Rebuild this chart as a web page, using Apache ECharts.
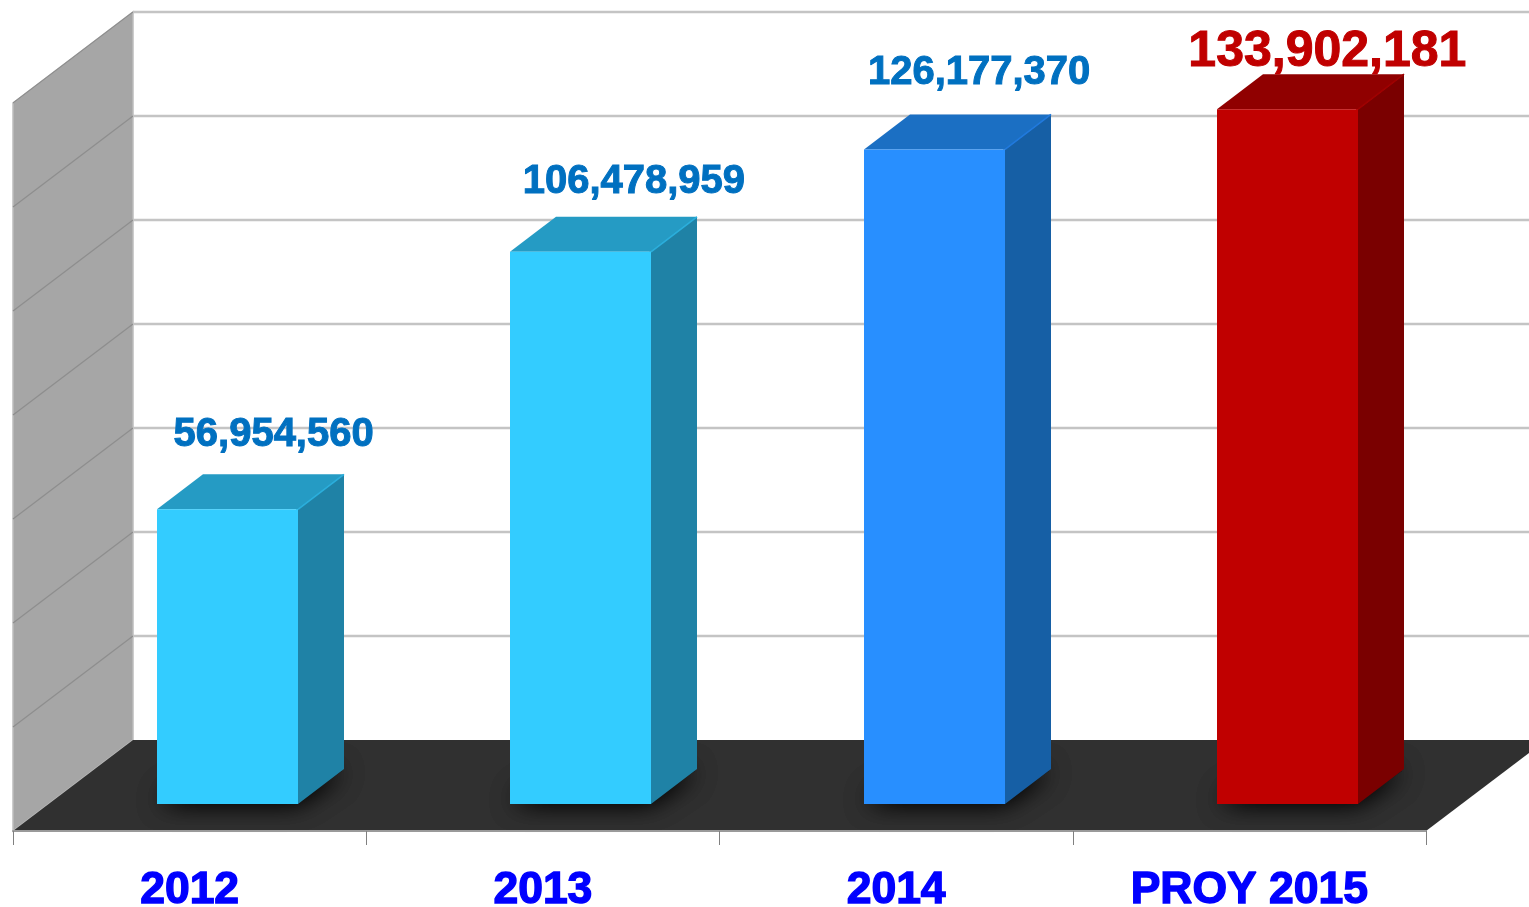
<!DOCTYPE html>
<html>
<head>
<meta charset="utf-8">
<style>html,body{margin:0;padding:0;background:#fff}#c{width:1529px;height:907px}</style>
<script src="https://cdn.jsdelivr.net/npm/echarts@6/dist/echarts.min.js"></script>
</head>
<body>
<div id="c"></div>
<script>
var categories = ['2012', '2013', '2014', 'PROY 2015'];
var values = [56954560, 106478959, 126177370, 133902181];
var valueTexts = ['56,954,560', '106,478,959', '126,177,370', '133,902,181'];
var yTicks = [0, 20000000, 40000000, 60000000, 80000000, 100000000, 120000000, 140000000];
var yMax = 140000000;

// Styling
var frontColors = ['#33CCFF', '#33CCFF', '#288FFF', '#C00000'];
var sideColors = ['#1F82A6', '#1F82A6', '#165FA5', '#7A0000'];
var topColors = ['#259BC4', '#259BC4', '#1B6FC3', '#900000'];
var edgeColors = ['#2AAEDC', '#2AAEDC', '#2079DD', '#A00000'];
var labelColors = ['#0070C0', '#0070C0', '#0070C0', '#C00000'];
var labelSizes = [40, 40, 40, 50];
var labelNudge = [[46, -73], [53, -68], [45, -75], [40, -55]];
var wallDX = 120, wallDY = -91;      // depth of the whole chart box
var planeDX = 38, planeDY = -27;     // where the bars stand inside that depth
var barW = 141, barDX = 46, barDY = -35;
var barTopInset = 1.5;

function pts(list) { return { points: list }; }

var chart = echarts.init(document.getElementById('c'), null, { renderer: 'canvas' });

chart.setOption({
  animation: false,
  backgroundColor: '#ffffff',
  grid: { left: 13, right: 103, top: 103, bottom: 76, containLabel: false, outerBoundsMode: 'none' },
  xAxis: {
    type: 'category',
    data: categories,
    boundaryGap: true,
    z: 10,
    axisLine: { show: true, lineStyle: { color: '#9a9a9a', width: 2 } },
    axisTick: { show: true, length: 14, alignWithLabel: false, lineStyle: { color: '#808080', width: 1 } },
    axisLabel: {
      interval: 0, margin: 37, color: '#0000FF', fontFamily: 'Liberation Sans',
      fontWeight: 'bold', fontSize: 44.5, textBorderColor: '#0000FF', textBorderWidth: 1.4
    },
    splitLine: { show: false }
  },
  yAxis: {
    type: 'value', min: 0, max: yMax, interval: 20000000, show: false, splitLine: { show: false }
  },
  series: [
    // left wall and floor
    {
      type: 'custom', coordinateSystem: 'cartesian2d', z: 1, silent: true,
      data: [[0, yMax]],
      renderItem: function (p, api) {
        var w = api.size([1, 0])[0];
        var top = api.coord([0, yMax]), base = api.coord([0, 0]);
        var last = api.coord([categories.length - 1, 0]);
        var xl = top[0] - w / 2, xr = last[0] + w / 2;
        return {
          type: 'group',
          children: [
            { type: 'polygon', shape: pts([[xl, top[1]], [xl + wallDX, top[1] + wallDY], [xl + wallDX, base[1] + wallDY], [xl, base[1]]]),
              style: { fill: '#A6A6A6', stroke: '#BDBDBD', lineWidth: 1.5 } },
            { type: 'polygon', shape: pts([[xl, base[1]], [xr, base[1]], [xr + wallDX, base[1] + wallDY], [xl + wallDX, base[1] + wallDY]]),
              style: { fill: '#303030' } }
          ]
        };
      }
    },
    // grid lines on both walls
    {
      type: 'custom', coordinateSystem: 'cartesian2d', z: 2, silent: true,
      data: yTicks.map(function (v) { return [0, v]; }),
      renderItem: function (p, api) {
        var w = api.size([1, 0])[0];
        var c = api.coord([0, api.value(1)]);
        var last = api.coord([categories.length - 1, 0]);
        var xl = c[0] - w / 2, xr = last[0] + w / 2;
        var kids = [];
        if (api.value(1) > 0) {
          kids.push({ type: 'line', shape: { x1: xl, y1: c[1], x2: xl + wallDX, y2: c[1] + wallDY },
            style: { stroke: '#8E8E8E', lineWidth: 1.3 } });
          kids.push({ type: 'line', shape: { x1: xl + wallDX, y1: c[1] + wallDY, x2: xr + wallDX, y2: c[1] + wallDY },
            style: { stroke: '#C4C4C4', lineWidth: 2.6 } });
        }
        return { type: 'group', children: kids };
      }
    },
    // bars
    {
      type: 'custom', coordinateSystem: 'cartesian2d', z: 3, silent: true,
      data: values.map(function (v, i) { return [i, v]; }),
      renderItem: function (p, api) {
        var i = api.value(0);
        var t = api.coord([i, api.value(1)]);
        var b = api.coord([i, 0]);
        var cx = t[0] + planeDX;
        var l = Math.round(cx - barW / 2), r = l + barW;
        var yT = t[1] + planeDY + barTopInset, yB = b[1] + planeDY;
        var tx = cx + labelNudge[i][0], ty = t[1] + planeDY + labelNudge[i][1];
        var foot = pts([[l + 2, yB - 2], [r - 2, yB - 2], [r + barDX - 2, yB + barDY + 2], [l + barDX, yB + barDY + 2]]);
        var shadow = { fill: '#1E1E1E', shadowBlur: 26, shadowColor: 'rgba(0,0,0,0.85)' };
        return {
          type: 'group',
          children: [
            { type: 'polygon', shape: foot, style: shadow },
            { type: 'polygon', shape: foot, style: shadow },
            { type: 'polygon', shape: pts([[l, yT], [r, yT], [r + barDX, yT + barDY], [l + barDX, yT + barDY]]),
              style: { fill: topColors[i] } },
            { type: 'polygon', shape: pts([[r - 2, yT], [r, yT], [r + barDX, yT + barDY], [r + barDX, yB + barDY], [r, yB], [r - 2, yB]]),
              style: { fill: sideColors[i] } },
            { type: 'line', shape: { x1: r, y1: yT, x2: r + barDX, y2: yT + barDY },
              style: { stroke: edgeColors[i], lineWidth: 1.6 } },
            { type: 'rect', shape: { x: l, y: yT, width: barW, height: yB - yT },
              style: { fill: frontColors[i] } },
            { type: 'text', style: {
                text: valueTexts[i], x: tx, y: ty, align: 'center', verticalAlign: 'middle',
                fill: labelColors[i], stroke: labelColors[i], lineWidth: 1, fontFamily: 'Liberation Sans', fontWeight: 'bold', fontSize: labelSizes[i]
              }, z2: 100 }
          ]
        };
      }
    }
  ]
});
</script>
</body>
</html>
